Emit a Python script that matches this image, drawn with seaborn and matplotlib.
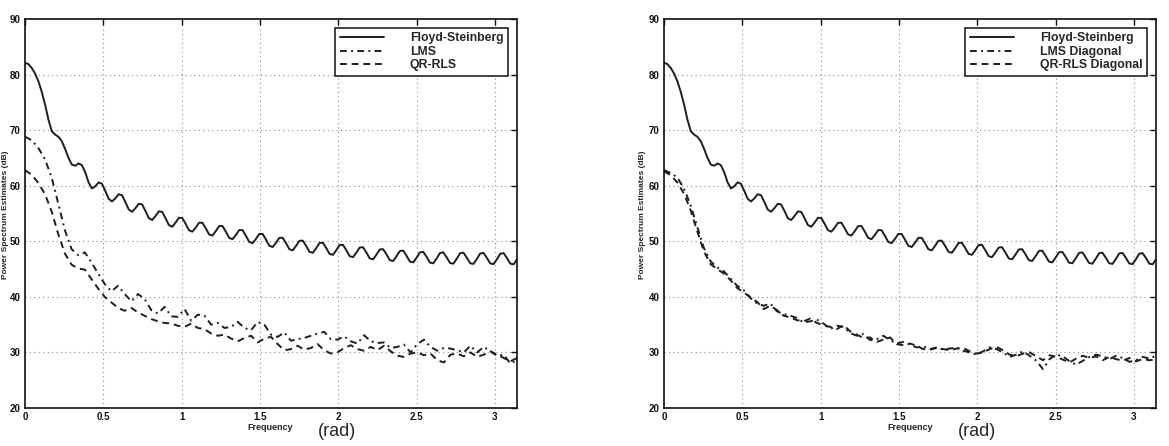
import numpy as np
import pandas as pd
import matplotlib
matplotlib.use('Agg')
import matplotlib.pyplot as plt
import seaborn as sns

# Floyd-Steinberg spectrum (same curve in both panels), 148 samples over [0, pi]
fs_db = [82.1, 81.9, 81.2, 80.2, 78.8, 76.9, 74.6, 71.9, 69.8, 69.2, 68.8, 68.0, 66.6, 65.0, 63.8,
         63.6, 64.0, 63.7, 62.4, 60.6, 59.5,
         59.9, 60.6, 60.35, 59.05, 57.65, 57.16, 57.73, 58.47, 58.28, 57.05, 55.71, 55.31, 55.97,
         56.75, 56.62, 55.44, 54.16, 53.83, 54.55, 55.38, 55.29, 54.14, 52.91, 52.61, 53.37, 54.23,
         54.18, 53.14, 51.99, 51.73, 52.46, 53.33, 53.34, 52.34, 51.24, 51.03, 51.83, 52.73, 52.75,
         51.74, 50.61, 50.38, 51.14, 52.02, 52.0, 51.0, 49.88, 49.66, 50.43, 51.32, 51.31, 50.31,
         49.19, 48.97, 49.74, 50.63, 50.62, 49.65, 48.56, 48.37, 49.18, 50.09, 50.12, 49.17, 48.11,
         47.93, 48.76, 49.7, 49.74, 48.79, 47.73, 47.56, 48.38, 49.32, 49.36, 48.4, 47.32, 47.14,
         47.96, 48.88, 48.93, 47.98, 46.92, 46.76, 47.59, 48.53, 48.58, 47.65, 46.61, 46.45, 47.3,
         48.25, 48.32, 47.39, 46.35, 46.2, 47.05, 48.01, 48.09, 47.18, 46.16, 46.04, 46.91, 47.9,
         48.0, 47.1, 46.09, 45.97, 46.86, 47.85, 47.95, 47.05, 46.05, 45.93, 46.81, 47.81, 47.91,
         47.01, 46.01, 45.89, 46.77, 47.77, 47.87, 46.98, 45.97, 45.86, 46.74]

# left panel adaptive filters, 75 samples over [0, pi]
lms_db = [68.8, 68.2, 66.8, 64.8, 61.5, 56.8, 52.0, 48.6, 47.5, 48.0,
          46.2, 44.2, 42.3, 41.0, 42.0, 40.5, 39.2, 40.5, 39.6, 37.6,
          37.0, 38.2, 36.5, 36.4, 37.8, 35.7, 36.8, 36.6, 35.0, 35.3,
          34.4, 34.6, 35.5, 34.4, 34.0, 35.5, 35.0, 33.2, 32.8, 33.6,
          32.1, 32.4, 32.6, 33.0, 33.4, 33.7, 32.4, 32.3, 32.9, 32.0,
          31.6, 33.1, 32.0, 31.7, 31.8, 30.8, 31.0, 31.4, 30.0, 31.5,
          32.3, 31.0, 30.3, 30.8, 30.7, 30.4, 30.0, 31.2, 30.0, 31.0,
          30.2, 29.4, 29.6, 28.0, 28.6]
qrrls_db = [62.8, 62.0, 60.5, 58.5, 55.4, 51.3, 47.8, 45.8, 45.1, 44.9,
            43.2, 41.5, 40.0, 39.0, 38.0, 37.5, 38.0, 37.2, 36.6, 36.0,
            35.6, 35.3, 35.2, 34.8, 34.6, 35.2, 34.4, 34.2, 33.4, 33.0,
            33.2, 32.5, 32.0, 32.6, 33.0, 31.8, 32.5, 32.8, 31.5, 30.4,
            30.6, 31.2, 30.5, 30.8, 31.5, 30.4, 29.8, 30.0, 30.8, 31.3,
            30.6, 30.3, 31.0, 30.4, 31.2, 30.2, 29.4, 29.2, 29.8, 30.0,
            29.5, 29.8, 28.6, 28.2, 29.6, 29.8, 29.3, 30.0, 29.2, 29.6,
            30.2, 29.6, 29.0, 28.4, 29.0]

# right panel diagonal variants, 75 samples over [0, pi]
lms_diag_db = [62.8, 62.3, 61.5, 59.5, 56.5, 52.6, 48.8, 46.4, 45.3, 44.6,
               43.3, 42.0, 41.2, 39.8, 38.8, 38.4, 38.8, 37.4, 36.9, 36.6,
               36.2, 35.4, 35.6, 35.9, 35.2, 34.2, 34.8, 34.6, 33.5, 33.0,
               33.3, 32.2, 32.4, 33.0, 32.2, 31.6, 31.9, 31.4, 30.9, 31.1,
               30.6, 30.9, 30.5, 30.7, 30.9, 30.3, 30.0, 29.6, 30.2, 30.9,
               30.6, 30.0, 29.2, 29.6, 30.2, 29.4, 28.5, 27.0, 28.8, 29.6,
               29.3, 28.4, 27.8, 28.5, 29.2, 29.6, 29.3, 28.8, 29.4, 29.0,
               28.3, 28.6, 29.2, 28.9, 29.4]
qrrls_diag_db = [62.6, 61.9, 60.6, 58.6, 55.6, 51.8, 48.2, 45.9, 45.0, 44.2,
                 43.0, 41.6, 40.8, 39.9, 39.1, 37.8, 38.4, 37.6, 36.6, 36.3,
                 35.8, 35.6, 36.1, 35.3, 34.9, 34.6, 34.2, 34.9, 33.8, 33.2,
                 32.6, 32.7, 31.9, 32.3, 32.7, 31.5, 31.3, 31.6, 31.2, 30.6,
                 30.5, 30.8, 30.6, 30.4, 30.7, 30.8, 30.2, 29.8, 30.0, 30.6,
                 31.0, 30.4, 29.6, 29.3, 29.8, 30.0, 29.3, 28.6, 29.5, 29.2,
                 28.7, 28.2, 28.9, 29.4, 29.0, 29.3, 28.6, 29.2, 28.8, 28.5,
                 29.0, 28.4, 28.8, 28.6, 28.7]

x_ticks = [0, 0.5, 1, 1.5, 2, 2.5, 3]
x_ticklabels = ['0', '0.5', '1', '1.5', '2', '2.5', '3']
y_ticks = [20, 30, 40, 50, 60, 70, 80, 90]


def spectrum_frame(series):
    parts = []
    for name, vals in series:
        freq = np.linspace(0, np.pi, len(vals))
        parts.append(pd.DataFrame({'freq': freq, 'db': vals, 'method': name}))
    return pd.concat(parts, ignore_index=True)


sns.set_style('white')
plt.rcParams['font.family'] = ['Liberation Sans', 'DejaVu Sans']

W, H = 1169, 446
fig = plt.figure(figsize=(W / 100, H / 100), dpi=100)
ax_l = fig.add_axes([25 / W, (H - 408) / H, 492 / W, 389 / H])
ax_r = fig.add_axes([664 / W, (H - 408) / H, 492 / W, 389 / H])

ink = '#1e1e1e'
panels = [
    (ax_l, [('Floyd-Steinberg', fs_db), ('LMS', lms_db), ('QR-RLS', qrrls_db)], 6, 270),
    (ax_r, [('Floyd-Steinberg', fs_db), ('LMS Diagonal', lms_diag_db),
            ('QR-RLS Diagonal', qrrls_diag_db)], 643, 910),
]

for ax, series, ylab_x, xlab_x in panels:
    df = spectrum_frame(series)
    names = [s[0] for s in series]
    dash_map = {names[0]: '', names[1]: (3.5, 2.2, 1.0, 2.2), names[2]: (3.5, 2.5)}
    sns.lineplot(data=df, x='freq', y='db', style='method', dashes=dash_map,
                 color=ink, linewidth=1.4, estimator=None, sort=False, ax=ax)

    ax.set_xlim(0, np.pi)
    ax.set_ylim(20, 90)
    ax.set_xticks(x_ticks)
    ax.set_xticklabels(x_ticklabels)
    ax.set_yticks(y_ticks)
    ax.grid(True, color='#8a8a8a', linestyle=(0, (1, 3)), linewidth=0.8)
    ax.tick_params(direction='in', length=4, width=1, top=True, right=True,
                   labelsize=7, colors='#111', pad=3)
    for lab in ax.get_xticklabels() + ax.get_yticklabels():
        lab.set_fontweight('bold')
    for sp in ax.spines.values():
        sp.set_color('#111')
        sp.set_linewidth(1.2)
    ax.set_xlabel('')
    ax.set_ylabel('')
    fig.text(ylab_x / W, 1 - 215 / H, 'Power Spectrum Estimates (dB)', fontsize=6,
             fontweight='bold', rotation=90, ha='center', va='center')
    fig.text(xlab_x / W, 1 - 428 / H, 'Frequency', fontsize=6.5, fontweight='bold',
             ha='center', va='center')
    # handwritten unit note next to the axis label
    fig.text((xlab_x + 67) / W, 1 - 432 / H, '(rad)', fontsize=13, ha='center', va='center')

    handles, labels = ax.get_legend_handles_labels()
    leg = ax.legend(handles, labels, loc='upper right', prop={'size': 8.8, 'weight': 'bold'},
                    frameon=True, fancybox=False, edgecolor='#111', framealpha=1,
                    handlelength=3.6, handletextpad=2.1, labelspacing=0.12,
                    borderpad=0.4, borderaxespad=0.7)
    leg.get_frame().set_linewidth(1.1)

fig.savefig('out.png', dpi=100, facecolor='white')
